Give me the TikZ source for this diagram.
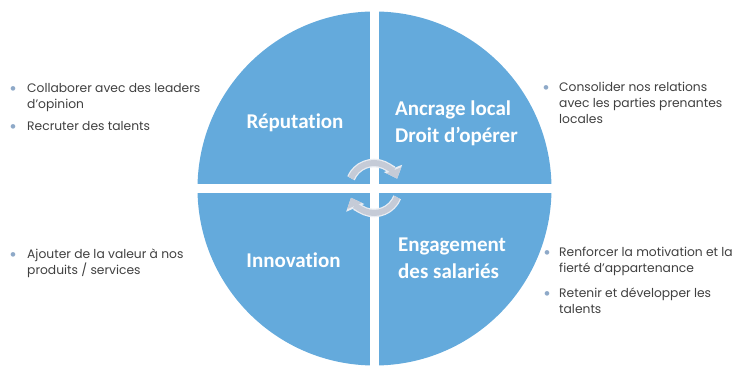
\documentclass[tikz,border=0pt]{standalone}
\usepackage{fontspec}
\setmainfont{Carlito}[Ligatures=NoCommon]
\newfontfamily\bodyfont{Poppins}
\usetikzlibrary{arrows.meta}
\definecolor{quad}{HTML}{64AADC}
\definecolor{txt}{HTML}{404040}
\definecolor{bul}{HTML}{8EA9C8}
\definecolor{cyc}{HTML}{C5CBD7}
\definecolor{cycedge}{HTML}{E9EDF3}
\tikzset{
 quadlabel/.style={text=white, font=\bfseries\fontsize{21}{27}\selectfont, align=left, inner sep=0pt},
 item/.style={text=txt, font=\bodyfont\fontsize{12.3}{16}\selectfont, align=left, anchor=base west, inner sep=0pt},
 dot/.style={text=bul, font=\fontsize{13}{13}\selectfont, anchor=base, inner sep=0pt},
 cycedgearrow/.style={draw=cycedge, line width=8.5pt, -{Triangle[width=19pt,length=11pt]}},
 cycarrow/.style={draw=cyc, line width=6pt, -{Triangle[width=15.5pt,length=9pt]}}
}
\begin{document}
\begin{tikzpicture}[x=1pt,y=1pt]
\useasboundingbox (0,0) rectangle (748,366);
\fill[quad] (374.5,177.5) circle (177);
\fill[white] (370,0) rectangle (379,366);
\fill[white] (190,173) rectangle (560,182);
% labels
\node[quadlabel] (rep) at (295,243) {Réputation};
\node[quadlabel, anchor=west] (anc) at (395,242.5) {Ancrage local\\Droit d’opérer};
\node[quadlabel] (inn) at (293.5,106) {Innovation};
\node[quadlabel, anchor=west] (eng) at (398,108) {Engagement\\des salariés};
% cycle arrows
\coordinate (cc) at (374,178);
\draw[cycedgearrow] (cc) ++(157:25) arc[start angle=157,end angle=22,radius=25];
\draw[cycedgearrow] (cc) ++(-22:25) arc[start angle=-22,end angle=-157,radius=25];
\draw[cycarrow] (cc) ++(157:25) arc[start angle=157,end angle=22,radius=25];
\draw[cycarrow] (cc) ++(-22:25) arc[start angle=-22,end angle=-157,radius=25];
% bullets
\node[dot] (d1) at (13,273) {•};
\node[item] (t1) at (27,257) {Collaborer avec des leaders\\d’opinion};
\node[dot] (d2) at (13,235) {•};
\node[item] (t2) at (27,235) {Recruter des talents};
\node[dot] (d3) at (546,274) {•};
\node[item] (t3) at (559,242) {Consolider nos relations\\avec les parties prenantes\\locales};
\node[dot] (d4) at (13,107) {•};
\node[item] (t4) at (27,91) {Ajouter de la valeur à nos\\produits / services};
\node[dot] (d5) at (547,109) {•};
\node[item] (t5) at (559,93) {Renforcer la motivation et la\\fierté d’appartenance};
\node[dot] (d6) at (547,68) {•};
\node[item] (t6) at (559,52) {Retenir et développer les\\talents};
\end{tikzpicture}
\end{document}
